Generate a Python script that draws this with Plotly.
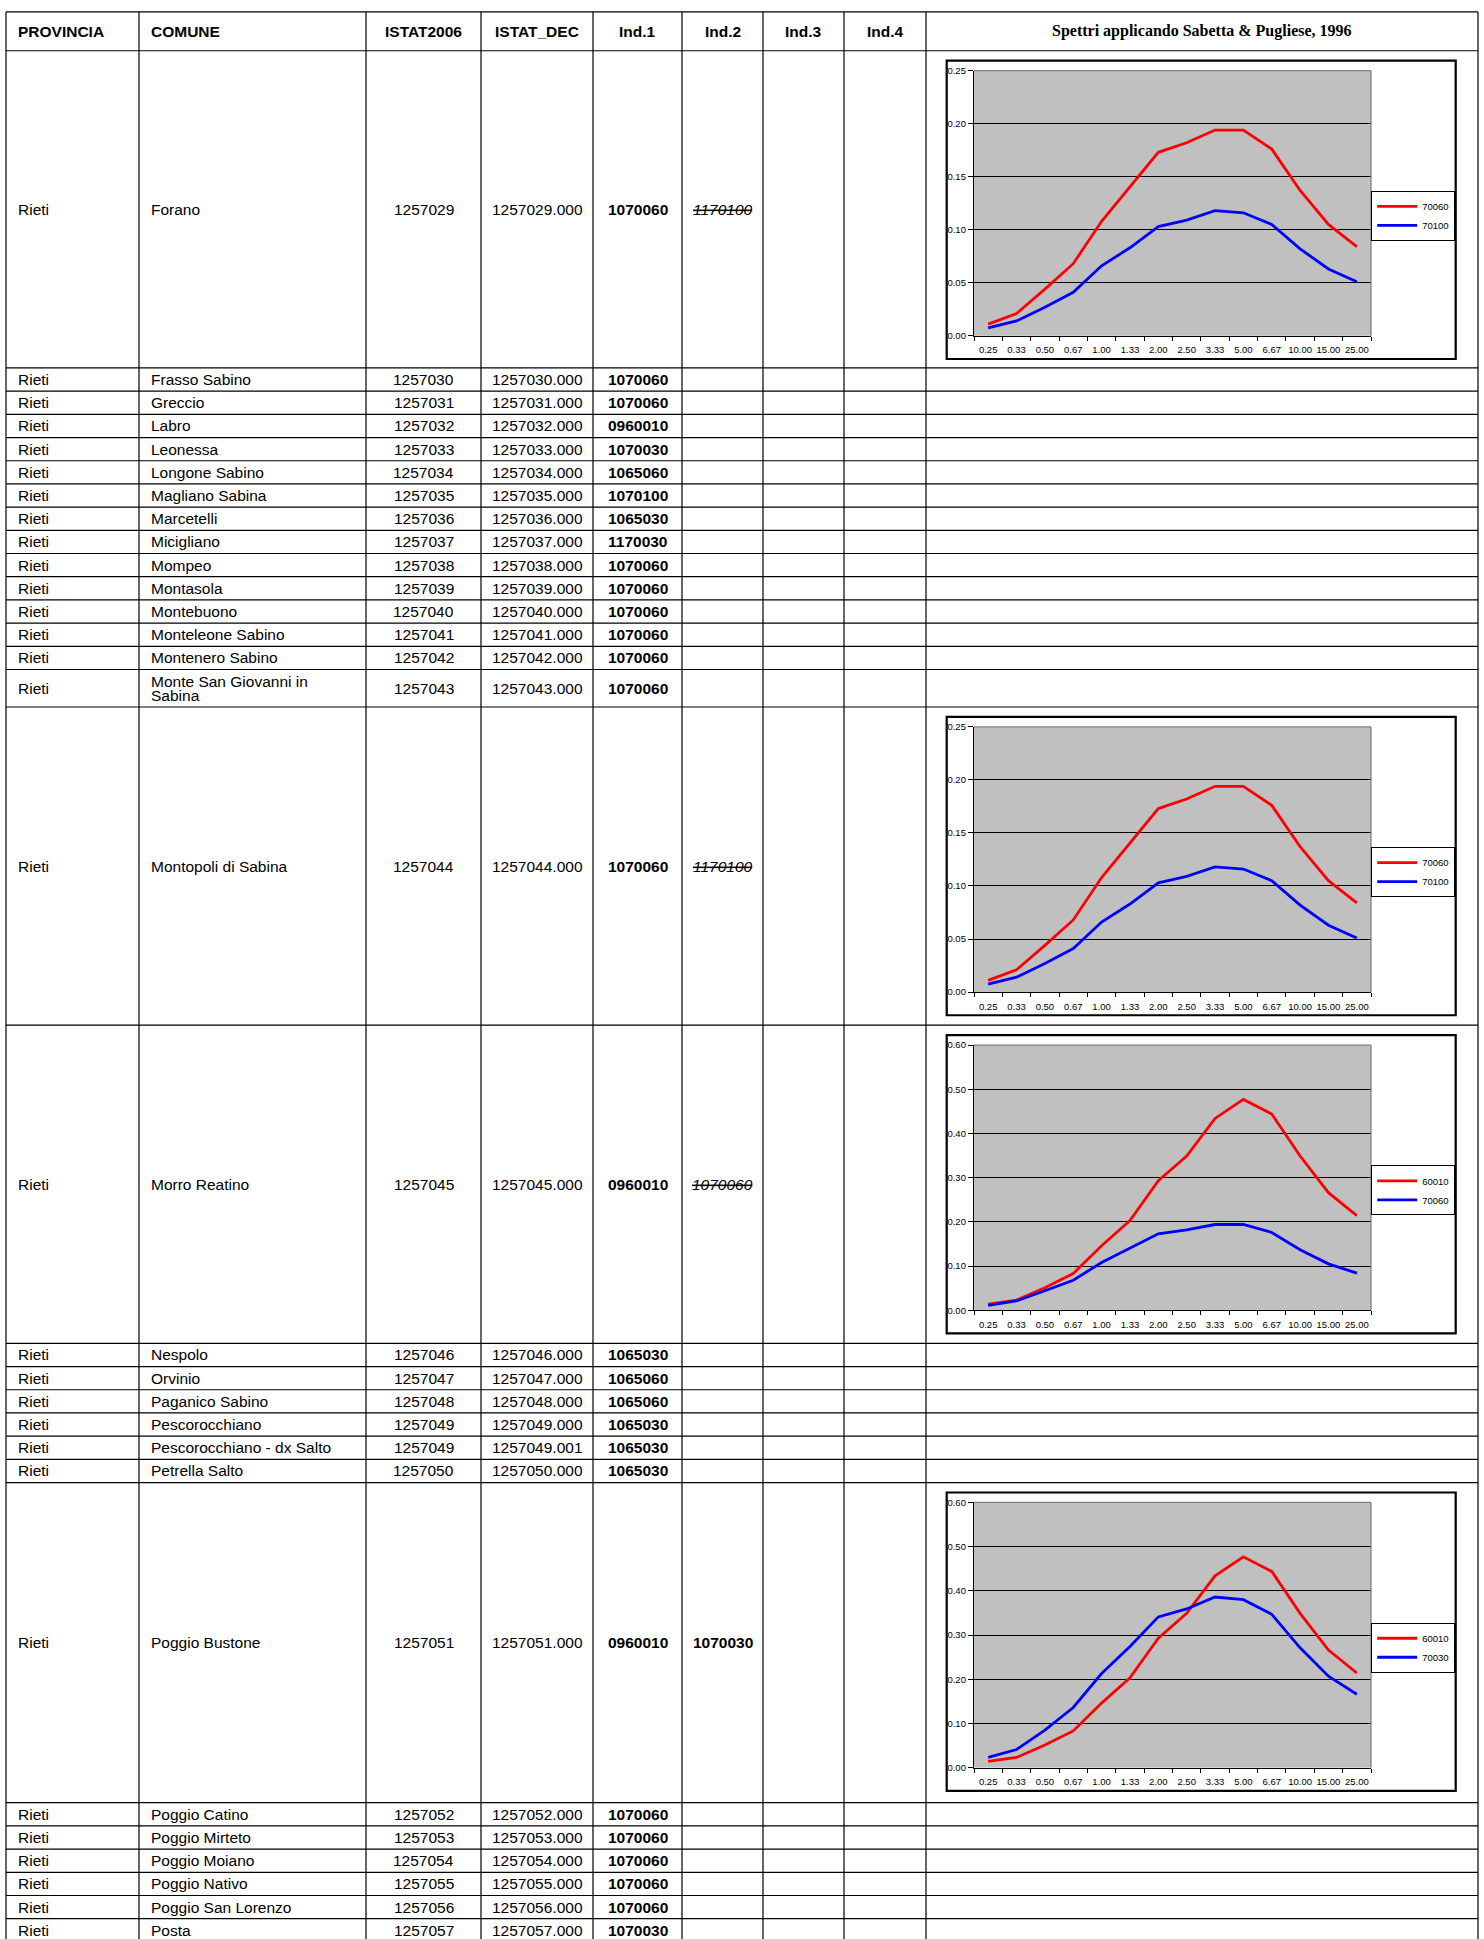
import plotly.graph_objects as go

W, H = 1484, 1939

# ---------------- data ----------------
header_labels = ["PROVINCIA", "COMUNE", "ISTAT2006", "ISTAT_DEC", "Ind.1", "Ind.2", "Ind.3", "Ind.4"]
chart_header = "Spettri applicando Sabetta & Pugliese, 1996"

comuni = ["Forano", "Frasso Sabino", "Greccio", "Labro", "Leonessa", "Longone Sabino",
          "Magliano Sabina", "Marcetelli", "Micigliano", "Mompeo", "Montasola", "Montebuono",
          "Monteleone Sabino", "Montenero Sabino", "Monte San Giovanni in\nSabina",
          "Montopoli di Sabina", "Morro Reatino", "Nespolo", "Orvinio", "Paganico Sabino",
          "Pescorocchiano", "Pescorocchiano - dx Salto", "Petrella Salto", "Poggio Bustone",
          "Poggio Catino", "Poggio Mirteto", "Poggio Moiano", "Poggio Nativo",
          "Poggio San Lorenzo", "Posta"]
provincia = ["Rieti"] * len(comuni)
istat2006 = ["1257029", "1257030", "1257031", "1257032", "1257033", "1257034", "1257035",
             "1257036", "1257037", "1257038", "1257039", "1257040", "1257041", "1257042",
             "1257043", "1257044", "1257045", "1257046", "1257047", "1257048", "1257049",
             "1257049", "1257050", "1257051", "1257052", "1257053", "1257054", "1257055",
             "1257056", "1257057"]
istat_dec = ["1257029.000", "1257030.000", "1257031.000", "1257032.000", "1257033.000",
             "1257034.000", "1257035.000", "1257036.000", "1257037.000", "1257038.000",
             "1257039.000", "1257040.000", "1257041.000", "1257042.000", "1257043.000",
             "1257044.000", "1257045.000", "1257046.000", "1257047.000", "1257048.000",
             "1257049.000", "1257049.001", "1257050.000", "1257051.000", "1257052.000",
             "1257053.000", "1257054.000", "1257055.000", "1257056.000", "1257057.000"]
ind1 = ["1070060", "1070060", "1070060", "0960010", "1070030", "1065060", "1070100",
        "1065030", "1170030", "1070060", "1070060", "1070060", "1070060", "1070060",
        "1070060", "1070060", "0960010", "1065030", "1065060", "1065060", "1065030",
        "1065030", "1065030", "0960010", "1070060", "1070060", "1070060", "1070060",
        "1070060", "1070030"]
ind2 = [""] * len(comuni)
ind2[0] = "1170100"
ind2[15] = "1170100"
ind2[16] = "1070060"
ind2[23] = "1070030"
ind2_struck = [False] * len(comuni)
ind2_struck[0] = True
ind2_struck[15] = True
ind2_struck[16] = True

periods = ["0.25", "0.33", "0.50", "0.67", "1.00", "1.33", "2.00", "2.50",
           "3.33", "5.00", "6.67", "10.00", "15.00", "25.00"]
s70060 = [0.011, 0.021, 0.044, 0.068, 0.108, 0.140, 0.173, 0.182, 0.194, 0.194, 0.176, 0.137, 0.105, 0.084]
s70100 = [0.0075, 0.014, 0.027, 0.041, 0.066, 0.083, 0.103, 0.109, 0.118, 0.116, 0.105, 0.082, 0.063, 0.051]
s60010 = [0.014, 0.023, 0.051, 0.083, 0.146, 0.203, 0.293, 0.349, 0.434, 0.477, 0.444, 0.349, 0.266, 0.214]
s70030 = [0.023, 0.041, 0.085, 0.136, 0.213, 0.274, 0.341, 0.359, 0.386, 0.380, 0.347, 0.271, 0.207, 0.166]

RED, BLUE = "#FF0000", "#0000FF"
charts = {
    0: dict(series=[("70060", s70060, RED), ("70100", s70100, BLUE)], ymax=0.25, dtick=0.05),
    15: dict(series=[("70060", s70060, RED), ("70100", s70100, BLUE)], ymax=0.25, dtick=0.05),
    16: dict(series=[("60010", s60010, RED), ("70060", s70060, BLUE)], ymax=0.60, dtick=0.10),
    23: dict(series=[("60010", s60010, RED), ("70030", s70030, BLUE)], ymax=0.60, dtick=0.10),
}

# ---------------- layout geometry (pixels) ----------------
SANS = "Liberation Sans, Arial, sans-serif"
SERIF = "Liberation Serif, Times New Roman, serif"
FS = 15.5
TOP = 6
HEADER_H = 39
SMALL = 23.33
col_edges = [6, 139, 366, 481, 593, 682, 763, 844, 926, 1478]
row_h = [319] + [SMALL] * 13 + [37.7] + [320, 320] + [SMALL] * 6 + [322] + [SMALL] * 6


def X(p):
    return p / W


def Y(p):
    return 1 - p / H


shapes = []
annotations = []


def hline(x0, x1, y, color="black", width=1.2, layer="below"):
    shapes.append(dict(type="line", xref="paper", yref="paper", x0=X(x0), x1=X(x1),
                       y0=Y(y), y1=Y(y), line=dict(color=color, width=width), layer=layer))


def vline(x, y0, y1, color="black", width=1.2, layer="below"):
    shapes.append(dict(type="line", xref="paper", yref="paper", x0=X(x), x1=X(x),
                       y0=Y(y0), y1=Y(y1), line=dict(color=color, width=width), layer=layer))


def txt(s, xp, yp, anchor, family=SANS, size=FS, **font):
    annotations.append(dict(text=s, x=X(xp), y=Y(yp), xref="paper", yref="paper",
                            xanchor=anchor, yanchor="middle", showarrow=False,
                            font=dict(family=family, size=size, color="black", **font)))


row_edges = [TOP, TOP + HEADER_H]
for h in row_h:
    row_edges.append(row_edges[-1] + h)

for ye in row_edges:
    hline(col_edges[0], col_edges[-1], ye)
for xe in col_edges:
    vline(xe, TOP, H + 10)

# header
hc = TOP + HEADER_H / 2
txt(header_labels[0], col_edges[0] + 9.5, hc, "left", weight="bold")
txt(header_labels[1], col_edges[1] + 9.5, hc, "left", weight="bold")
for j in range(2, 8):
    txt(header_labels[j], (col_edges[j] + col_edges[j + 1]) / 2, hc, "center", weight="bold")
txt(chart_header, (col_edges[8] + col_edges[9]) / 2, hc, "center", family=SERIF, size=16, weight="bold")

# body rows
for i in range(len(comuni)):
    y0, y1 = row_edges[i + 1], row_edges[i + 2]
    yc = (y0 + y1) / 2
    txt(provincia[i], col_edges[0] + 9.5, yc, "left")
    lines = comuni[i].split("\n")
    if len(lines) == 1:
        txt(lines[0], col_edges[1] + 9.5, yc, "left")
    else:
        for k, ln in enumerate(lines):
            txt(ln, col_edges[1] + 9.5, yc + (k - (len(lines) - 1) / 2) * 14.2, "left")
    txt(istat2006[i], (col_edges[2] + col_edges[3]) / 2, yc, "center")
    txt(istat_dec[i], (col_edges[3] + col_edges[4]) / 2, yc, "center")
    txt(ind1[i], (col_edges[4] + col_edges[5]) / 2, yc, "center", weight="bold")
    if ind2[i]:
        if ind2_struck[i]:
            txt(ind2[i], (col_edges[5] + col_edges[6]) / 2, yc, "center",
                style="italic", lineposition="through")
        else:
            txt(ind2[i], (col_edges[5] + col_edges[6]) / 2, yc, "center", weight="bold")

# ---------------- charts ----------------
fig = go.Figure()
layout_axes = {}
BOX_L, BOX_R = 946.7, 1455.7
PLOT_L, PLOT_R = 974, 1371

for k, (ri, spec) in enumerate(sorted(charts.items()), start=1):
    row_top = row_edges[ri + 1]
    by0 = row_top + 10
    by1 = by0 + 300
    pt, pb = by0 + 10, by0 + 276.7
    sfx = "" if k == 1 else str(k)
    xa, ya, lg = "x" + sfx, "y" + sfx, "legend" + sfx
    for name, vals, col in spec["series"]:
        fig.add_trace(go.Scatter(x=periods, y=vals, mode="lines", name=name,
                                 line=dict(color=col, width=2.8), xaxis=xa, yaxis=ya,
                                 legend=lg, hoverinfo="skip"))
    layout_axes["xaxis" + sfx] = dict(
        domain=[X(PLOT_L), X(PLOT_R)], anchor=ya, type="category",
        categoryorder="array", categoryarray=periods, range=[-0.5, len(periods) - 0.5],
        tickmode="array", tickvals=periods, ticktext=periods, tickangle=0,
        tickson="boundaries", ticks="outside", ticklen=4, tickcolor="black", tickwidth=1,
        ticklabelstandoff=5,
        showline=True, linecolor="black", linewidth=1.3, showgrid=False, zeroline=False,
        tickfont=dict(family=SANS, size=9.5, color="black"), fixedrange=True)
    layout_axes["yaxis" + sfx] = dict(
        domain=[Y(pb), Y(pt)], anchor=xa, range=[0, spec["ymax"]], dtick=spec["dtick"],
        tick0=0, tickformat=".2f", ticks="outside", ticklen=5, tickcolor="black", tickwidth=1,
        showline=True, linecolor="black", linewidth=1.3, showgrid=True, gridcolor="black",
        gridwidth=1, zeroline=False, tickfont=dict(family=SANS, size=9.5, color="black"),
        fixedrange=True)
    layout_axes[lg] = dict(
        x=X(BOX_R - 0.5), xanchor="right", y=Y(by0 + 131), yanchor="top",
        xref="paper", yref="paper", bgcolor="white", bordercolor="black", borderwidth=1,
        font=dict(family=SANS, size=9.5, color="black"), itemwidth=40, tracegroupgap=0)
    # chart frame
    shapes.append(dict(type="rect", xref="paper", yref="paper", x0=X(BOX_L), x1=X(BOX_R),
                       y0=Y(by1), y1=Y(by0), line=dict(color="black", width=2.2),
                       fillcolor="rgba(0,0,0,0)", layer="above"))
    # plot-area border (top and right, grey)
    hline(PLOT_L, PLOT_R, pt, color="#808080", width=1.3, layer="above")
    vline(PLOT_R, pt, pb, color="#808080", width=1.3, layer="above")

fig.update_layout(
    width=W, height=H, margin=dict(l=0, r=0, t=0, b=0),
    paper_bgcolor="white", plot_bgcolor="#C0C0C0",
    showlegend=True, shapes=shapes, annotations=annotations, hovermode=False,
    **layout_axes)

fig.write_html("out.html", config={"displayModeBar": False},
               post_script="document.body.style.margin='0';document.body.style.overflow='hidden';")
